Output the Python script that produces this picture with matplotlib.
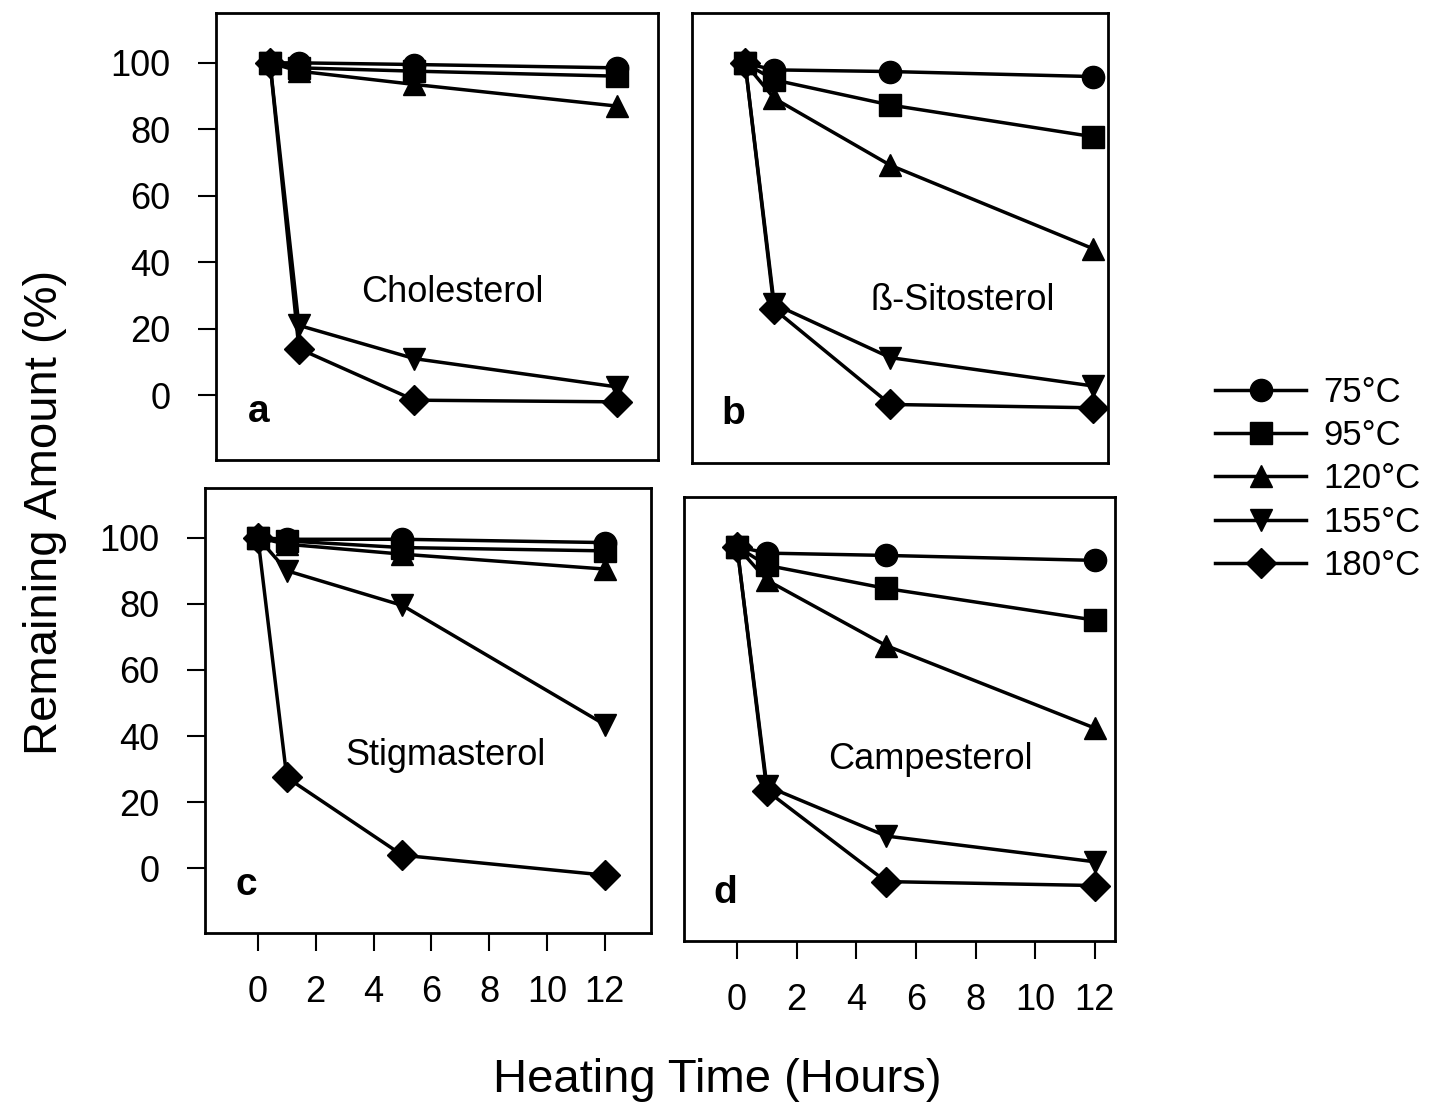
import matplotlib
matplotlib.use("Agg")
import matplotlib.pyplot as plt

plt.rcParams['font.family'] = ['Liberation Sans', 'DejaVu Sans']

# heating time (hours)
hours = [0, 1, 5, 12]
temps = ['75°C', '95°C', '120°C', '155°C', '180°C']
markers = ['o', 's', '^', 'v', 'D']

# remaining amount (%) per temperature, one list per sterol
chol_75 = [100, 100, 99.5, 98.5]
chol_95 = [100, 98.5, 97.5, 96]
chol_120 = [100, 97.5, 93.5, 87]
chol_155 = [100, 21, 11, 2.5]
chol_180 = [100, 14, -1.5, -2]

sito_75 = [100, 98, 97.5, 96]
sito_95 = [100, 95, 87.5, 78]
sito_120 = [100, 89.5, 69.5, 44.5]
sito_155 = [100, 28, 12, 3.5]
sito_180 = [100, 26.5, -2, -3]

stig_75 = [100, 99.5, 99.5, 98.5]
stig_95 = [100, 99, 97, 96]
stig_120 = [100, 98, 95, 90.5]
stig_155 = [100, 90, 79.5, 43.5]
stig_180 = [100, 27.5, 4, -2]

camp_75 = [100, 98, 97.3, 95.8]
camp_95 = [100, 94.3, 87.3, 77.7]
camp_120 = [100, 89.8, 70, 45]
camp_155 = [100, 27.4, 12.3, 4.5]
camp_180 = [100, 26, -1.5, -2.7]

sterols = ['Cholesterol', 'ß-Sitosterol', 'Stigmasterol', 'Campesterol']
letters = ['a', 'b', 'c', 'd']
series = [
    [chol_75, chol_95, chol_120, chol_155, chol_180],
    [sito_75, sito_95, sito_120, sito_155, sito_180],
    [stig_75, stig_95, stig_120, stig_155, stig_180],
    [camp_75, camp_95, camp_120, camp_155, camp_180],
]

W, H = 1431, 1108
fig = plt.figure(figsize=(W / 100, H / 100), dpi=100)

# panel boxes in pixels (left, top, right, bottom) - scanned figure, slightly uneven
boxes = [(216, 13, 658, 460), (692, 13, 1108, 463),
         (205, 488, 651, 933), (684, 497, 1115, 941)]
xlims = [(-1.87, 13.43), (-1.83, 12.5), (-1.83, 13.6), (-1.78, 12.68)]
name_pos = [(6.3, 31), (7.5, 29), (6.5, 34), (6.5, 35.5)]

axes = []
for i, (l, t, r, b) in enumerate(boxes):
    ax = fig.add_axes([l / W, 1 - b / H, (r - l) / W, (b - t) / H])
    for vals, m, lab in zip(series[i], markers, temps):
        ax.plot(hours, vals, color='black', lw=2.5, marker=m,
                markersize=15 if m == 'D' else 16, label=lab, clip_on=False)
    ax.set_xlim(*xlims[i])
    ax.set_ylim(-19.5, 115)
    for s in ax.spines.values():
        s.set_linewidth(2)
    ax.set_xticks([0, 2, 4, 6, 8, 10, 12])
    ax.set_yticks([0, 20, 40, 60, 80, 100])
    ax.tick_params(axis='both', direction='out', length=13, width=1.5,
                   labelsize=26)
    ax.tick_params(axis='y', pad=20)
    ax.tick_params(axis='x', pad=17)
    if i < 2:
        ax.tick_params(axis='x', bottom=False, labelbottom=False)
    if i % 2 == 1:
        ax.tick_params(axis='y', left=False, labelleft=False)
    ax.text(name_pos[i][0], name_pos[i][1], sterols[i], fontsize=26,
            ha='center', va='center')
    ax.text(-0.4, -5, letters[i], fontsize=28, fontweight='bold',
            ha='center', va='center')
    axes.append(ax)

fig.text(45 / W, 1 - 512 / H, 'Remaining Amount (%)', fontsize=34,
         rotation=90, ha='center', va='center')
fig.text(717 / W, 1 - 1080 / H, 'Heating Time (Hours)', fontsize=34,
         ha='center', va='center')

handles, labels = axes[0].get_legend_handles_labels()
fig.legend(handles, labels, loc='center left',
           bbox_to_anchor=(1198 / W, 1 - 479 / H), frameon=False,
           fontsize=25, handlelength=2.6, handletextpad=0.5,
           labelspacing=0.3, borderpad=0)

fig.savefig('out.png', dpi=100)
